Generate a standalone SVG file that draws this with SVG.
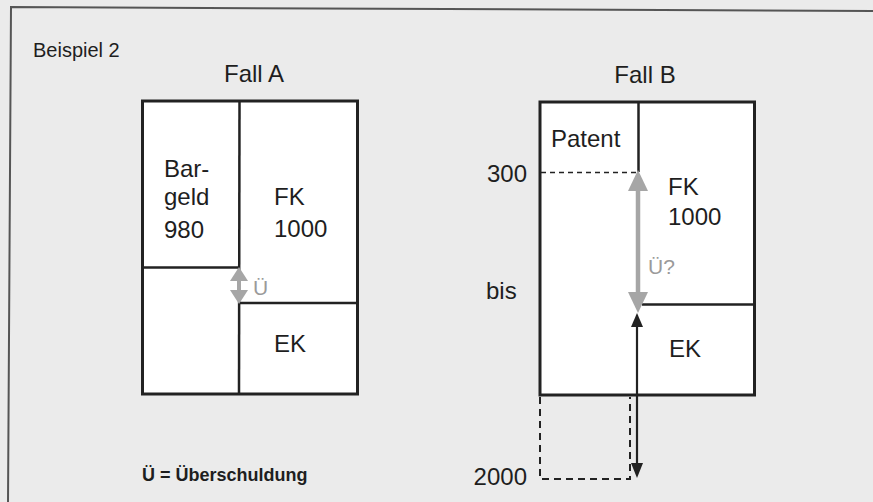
<svg xmlns="http://www.w3.org/2000/svg" width="873" height="502" viewBox="0 0 873 502">
<style>
  .t{font-family:"Liberation Sans",Arial,sans-serif;fill:#1e1e1e}
  .big{font-size:24px}
  .box{fill:#ffffff;stroke:#222;stroke-width:3}
  .ln{stroke:#222;stroke-width:2.5;fill:none}
  .grey{fill:#a6a6a6}
  .gt{font-family:"Liberation Sans",Arial,sans-serif;font-size:21px;fill:#9a9a9a}
</style>
<rect width="873" height="502" fill="#ebebeb"/>
<polyline points="873,11 11,7 8,502" fill="none" stroke="#555" stroke-width="2"/>
<text class="t" x="33" y="57" font-size="20" fill="#333">Beispiel 2</text>
<text class="t big" x="254" y="82" text-anchor="middle">Fall A</text>
<text class="t big" x="645" y="83" text-anchor="middle">Fall B</text>

<g id="fallA">
  <rect class="box" x="142.5" y="101" width="215" height="293"/>
  <line class="ln" x1="239.5" y1="101" x2="239" y2="394"/>
  <line class="ln" x1="142.5" y1="267.5" x2="239.5" y2="267.5"/>
  <line class="ln" x1="239.5" y1="303" x2="357.5" y2="303"/>
  <text class="t big" x="164" y="177">Bar-</text>
  <text class="t big" x="164" y="205">geld</text>
  <text class="t big" x="164" y="238">980</text>
  <text class="t big" x="274" y="205">FK</text>
  <text class="t big" x="274" y="237">1000</text>
  <text class="t big" x="274" y="352">EK</text>
</g>

<g id="fallB">
  <rect class="box" x="540" y="102" width="214.5" height="293"/>
  <line class="ln" x1="638.5" y1="102" x2="638.5" y2="172"/>
  <line x1="541" y1="172.5" x2="637" y2="172.5" stroke="#222" stroke-width="1.5" stroke-dasharray="5,4"/>
  <line class="ln" x1="642" y1="304.5" x2="754.5" y2="304.5"/>
  <text class="t big" x="551" y="147">Patent</text>
  <text class="t big" x="527" y="182" text-anchor="end">300</text>
  <text class="t big" x="668" y="195">FK</text>
  <text class="t big" x="668" y="225">1000</text>
  <text class="t big" x="486" y="299">bis</text>
  <text class="t big" x="669" y="357">EK</text>
  <text class="t big" x="527" y="485" text-anchor="end">2000</text>
</g>

<g id="connectors">
  <!-- Fall A grey double arrow -->
  <line x1="239" y1="279" x2="239" y2="292" stroke="#a6a6a6" stroke-width="4"/>
  <polygon class="grey" points="239,267 230,281 248,281"/>
  <polygon class="grey" points="239,304 230,290 248,290"/>
  <text class="gt" x="253" y="295">Ü</text>
  <!-- Fall B grey double arrow -->
  <line x1="638" y1="188" x2="638" y2="294" stroke="#a6a6a6" stroke-width="4.5"/>
  <polygon class="grey" points="638,170 628,191 648,191"/>
  <polygon class="grey" points="638,313 628,292 648,292"/>
  <text class="gt" x="648" y="274">Ü?</text>
  <!-- Fall B black double arrow -->
  <line x1="637" y1="325" x2="637" y2="465" stroke="#222" stroke-width="2.2"/>
  <polygon fill="#222" points="637,313 631,327 643,327"/>
  <polygon fill="#222" points="637,478 631,463 643,463"/>
  <!-- dashed extension -->
  <path d="M540,397 V479 H630 V397" fill="none" stroke="#222" stroke-width="2" stroke-dasharray="7,5"/>
</g>

<text class="t" x="142" y="481" font-size="18" font-weight="bold">Ü = Überschuldung</text>
</svg>
